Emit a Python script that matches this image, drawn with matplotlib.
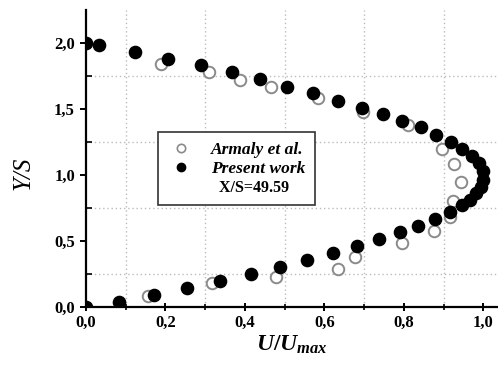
import numpy as np
import matplotlib
matplotlib.use('Agg')
import matplotlib.pyplot as plt
from matplotlib.lines import Line2D

# velocity profile at X/S = 49.59
present_u = [0.0, 0.083, 0.171, 0.254, 0.337, 0.415, 0.488, 0.556, 0.621, 0.682,
             0.737, 0.790, 0.835, 0.878, 0.916, 0.946, 0.965, 0.982, 0.994, 1.0,
             0.998, 0.988, 0.971, 0.946, 0.918, 0.880, 0.843, 0.795, 0.747, 0.694,
             0.634, 0.571, 0.506, 0.438, 0.367, 0.289, 0.206, 0.123, 0.033, 0.0]
present_y = [0.0, 0.038, 0.09, 0.144, 0.20, 0.25, 0.30, 0.356, 0.41, 0.46,
             0.515, 0.568, 0.614, 0.667, 0.72, 0.773, 0.81, 0.86, 0.91, 0.96,
             1.03, 1.09, 1.145, 1.20, 1.25, 1.30, 1.36, 1.41, 1.46, 1.51,
             1.56, 1.62, 1.67, 1.73, 1.78, 1.83, 1.88, 1.93, 1.985, 2.0]

armaly_u = [0.156, 0.317, 0.478, 0.634, 0.677, 0.795, 0.875, 0.916, 0.923, 0.943,
            0.926, 0.896, 0.81, 0.697, 0.583, 0.465, 0.387, 0.309, 0.189]
armaly_y = [0.083, 0.18, 0.227, 0.29, 0.38, 0.485, 0.575, 0.68, 0.80, 0.95,
            1.08, 1.20, 1.38, 1.48, 1.58, 1.67, 1.72, 1.78, 1.84]

x_ticklabels = ['0,0', '0,2', '0,4', '0,6', '0,8', '1,0']
y_ticklabels = ['0,0', '0,5', '1,0', '1,5', '2,0']

plt.rcParams['font.family'] = 'Liberation Serif'
plt.rcParams['font.weight'] = 'bold'
plt.rcParams['mathtext.fontset'] = 'custom'
plt.rcParams['mathtext.it'] = 'Liberation Serif:italic:bold'
plt.rcParams['mathtext.rm'] = 'Liberation Serif:bold'

fig = plt.figure(figsize=[4.98, 3.76], dpi=100)
ax = fig.add_axes([0.1727, 0.1835, 0.826, 0.79])

ax.plot(armaly_u, armaly_y, 'o', mfc='white', mec='#8a8a8a', mew=1.4, ms=8.3,
        zorder=3)
ax.plot(present_u, present_y, 'o', mfc='black', mec='black', ms=8.8, zorder=4)

ax.set_xlim(0, 1.035)
ax.set_ylim(0, 2.25)

ax.set_xticks(np.arange(0, 1.01, 0.2))
ax.set_xticklabels(x_ticklabels)
ax.set_xticks(np.arange(0.1, 1.0, 0.2), minor=True)
ax.set_yticks(np.arange(0, 2.01, 0.5))
ax.set_yticklabels(y_ticklabels)
ax.set_yticks(np.arange(0.25, 2.0, 0.5), minor=True)

ax.grid(which='minor', linestyle=(0, (1, 2)), color='#bcbcbc', linewidth=1.0)
ax.set_axisbelow(True)

for side in ['top', 'right']:
    ax.spines[side].set_visible(False)
for side in ['left', 'bottom']:
    ax.spines[side].set_linewidth(1.6)

ax.tick_params(axis='x', which='major', direction='inout', length=6, width=1.4,
               labelsize=12, pad=3)
ax.tick_params(axis='x', which='minor', direction='inout', length=4, width=1.2)
ax.tick_params(axis='y', which='major', direction='out', length=4, width=1.4,
               labelsize=12, pad=4)
ax.tick_params(axis='y', which='minor', direction='in', length=4, width=1.2)

ax.set_xlabel(r'$\mathit{U/U}_{\mathit{max}}$', fontsize=17, labelpad=2)
ax.set_ylabel('Y/S', fontsize=18, fontstyle='italic')
ax.yaxis.set_label_coords(-0.125, 0.45)

handles = [
    Line2D([], [], marker='o', ls='none', mfc='white', mec='#8a8a8a', mew=1.2, ms=6),
    Line2D([], [], marker='o', ls='none', mfc='black', mec='black', ms=6),
    Line2D([], [], ls='none'),
]
leg = ax.legend(handles, ['Armaly et al.', 'Present work', '  X/S=49.59'],
                loc='lower left', bbox_to_anchor=(0.175, 0.343), fancybox=False,
                edgecolor='#333333', framealpha=1, borderpad=0.55,
                labelspacing=0.15, handletextpad=0.9, handlelength=1.6,
                borderaxespad=0,
                prop={'size': 12.5, 'style': 'italic', 'weight': 'bold'})
leg.get_frame().set_linewidth(1.2)
leg.get_texts()[2].set_fontstyle('normal')
leg.get_texts()[2].set_fontsize(11.5)

plt.savefig('out.png', dpi=100)
plt.close()
